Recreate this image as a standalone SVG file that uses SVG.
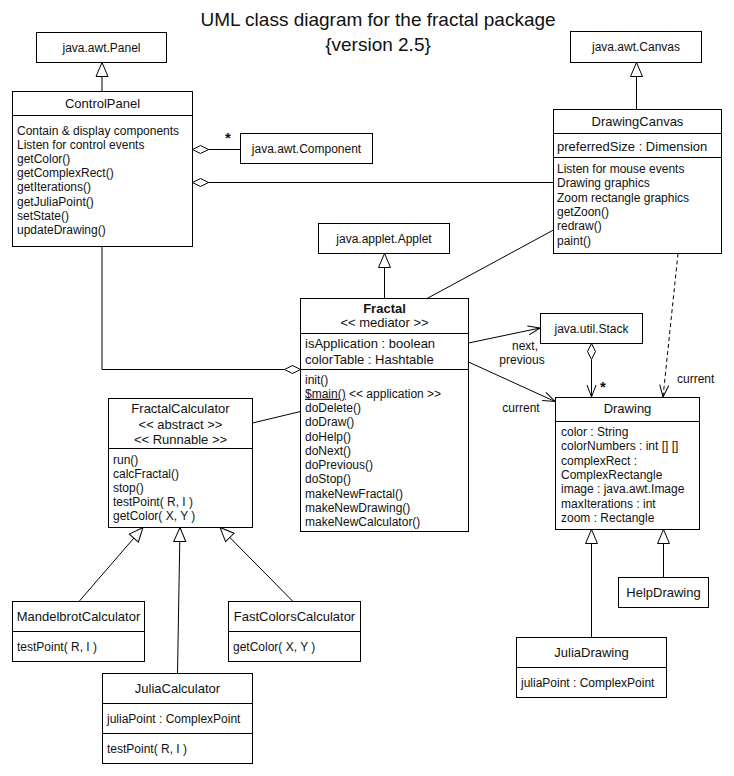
<svg xmlns="http://www.w3.org/2000/svg" width="734" height="776" viewBox="0 0 734 776">
<defs>
<style>
.box{fill:#fff;stroke:#000;stroke-width:1}
.ln{fill:none;stroke:#000;stroke-width:1}
text{font-family:"Liberation Sans",Arial,sans-serif;font-size:12px;fill:#111}
.n{font-size:13px;text-anchor:middle}
.a{font-size:13px}
.c{text-anchor:middle}
.title{font-size:19px;text-anchor:middle}
.star{font-size:15px;font-weight:bold;text-anchor:middle}
.inh{marker-end:url(#tri)}
.nav{marker-end:url(#open)}
</style>
<marker id="tri" markerUnits="userSpaceOnUse" markerWidth="18" markerHeight="16" refX="15" refY="7" orient="auto" overflow="visible">
<path d="M1,1 L15,7 L1,13 Z" fill="#fff" stroke="#000" stroke-width="1"/>
</marker>
<marker id="open" markerUnits="userSpaceOnUse" markerWidth="14" markerHeight="12" refX="12" refY="5" orient="auto" overflow="visible">
<path d="M0,0.5 L12,5 L0,9.5" fill="none" stroke="#000" stroke-width="1"/>
</marker>
</defs>
<rect width="734" height="776" fill="#fff"/>

<g id="title">
<text class="title" x="378" y="26">UML class diagram for the fractal package</text>
<text class="title" x="378" y="51">{version 2.5}</text>
</g>

<g id="connectors">
<line class="ln inh" x1="102" y1="91.5" x2="102" y2="62.5"/>
<line class="ln inh" x1="636.5" y1="109.5" x2="636.5" y2="62.5"/>
<line class="ln inh" x1="384.5" y1="298.5" x2="384.5" y2="253.5"/>
<line class="ln inh" x1="79" y1="601.5" x2="143" y2="527.5"/>
<line class="ln inh" x1="177.5" y1="673.5" x2="180" y2="527.5"/>
<line class="ln inh" x1="293" y1="601.5" x2="220" y2="527.5"/>
<line class="ln inh" x1="591.5" y1="637.5" x2="591.5" y2="529.5"/>
<line class="ln inh" x1="663.5" y1="577.5" x2="663.5" y2="529.5"/>
<line class="ln" x1="208" y1="149.5" x2="240.5" y2="149.5"/>
<polygon points="192.5,149.5 200.5,145.5 208.5,149.5 200.5,153.5" fill="#fff" stroke="#000"/>
<text class="star" x="228" y="143">*</text>
<line class="ln" x1="208" y1="182.5" x2="553.5" y2="182.5"/>
<polygon points="192.5,182.5 200.5,178.5 208.5,182.5 200.5,186.5" fill="#fff" stroke="#000"/>
<path class="ln" d="M102,246.5 V369.5 H284"/>
<polygon points="300.5,369.5 292.5,365.5 284.5,369.5 292.5,373.5" fill="#fff" stroke="#000"/>
<line class="ln" x1="427" y1="298.5" x2="553.5" y2="230"/>
<line class="ln" x1="252.5" y1="423" x2="300.5" y2="411.5"/>
<line class="ln nav" x1="468.5" y1="343" x2="540" y2="328"/>
<text class="c" x="525" y="350">next,</text>
<text class="c" x="522" y="364">previous</text>
<line class="ln nav" x1="468.5" y1="362" x2="555" y2="401.5"/>
<text class="c" x="521" y="412">current</text>
<line class="ln nav" x1="591.5" y1="359.5" x2="591.5" y2="397"/>
<polygon points="591.5,343.5 595.5,351.5 591.5,359.5 587.5,351.5" fill="#fff" stroke="#000"/>
<text class="star" x="603" y="392">*</text>
<line class="ln nav" x1="678" y1="253.5" x2="663" y2="397" stroke-dasharray="4,3"/>
<text x="677" y="383">current</text>
</g>

<g id="javaAwtPanel">
<rect class="box" x="36.5" y="32.5" width="130" height="30"/>
<text class="c" x="101.5" y="51.5">java.awt.Panel</text>
</g>

<g id="javaAwtCanvas">
<rect class="box" x="570.5" y="31.5" width="131" height="31"/>
<text class="c" x="636" y="51">java.awt.Canvas</text>
</g>

<g id="ControlPanel">
<rect class="box" x="12.5" y="91.5" width="180" height="155"/>
<line class="ln" x1="12.5" y1="115.5" x2="192.5" y2="115.5"/>
<text class="n" x="102.5" y="108">ControlPanel</text>
<text x="17" y="134.5">Contain &amp; display components</text>
<text x="17" y="148.7">Listen for control events</text>
<text x="17" y="162.9">getColor()</text>
<text x="17" y="177.1">getComplexRect()</text>
<text x="17" y="191.3">getIterations()</text>
<text x="17" y="205.5">getJuliaPoint()</text>
<text x="17" y="219.7">setState()</text>
<text x="17" y="233.9">updateDrawing()</text>
</g>

<g id="javaAwtComponent">
<rect class="box" x="240.5" y="133.5" width="132" height="30"/>
<text class="c" x="306.5" y="152.5">java.awt.Component</text>
</g>

<g id="DrawingCanvas">
<rect class="box" x="553.5" y="109.5" width="168" height="144"/>
<line class="ln" x1="553.5" y1="133.5" x2="721.5" y2="133.5"/>
<line class="ln" x1="553.5" y1="157.5" x2="721.5" y2="157.5"/>
<text class="n" x="637.5" y="126">DrawingCanvas</text>
<text class="a" x="557" y="150.5">preferredSize : Dimension</text>
<text x="557" y="173">Listen for mouse events</text>
<text x="557" y="187.3">Drawing graphics</text>
<text x="557" y="201.6">Zoom rectangle graphics</text>
<text x="557" y="215.9">getZoon()</text>
<text x="557" y="230.2">redraw()</text>
<text x="557" y="244.5">paint()</text>
</g>

<g id="javaAppletApplet">
<rect class="box" x="318.5" y="223.5" width="131" height="30"/>
<text class="c" x="384" y="243">java.applet.Applet</text>
</g>

<g id="Fractal">
<rect class="box" x="300.5" y="298.5" width="168" height="233"/>
<line class="ln" x1="300.5" y1="333.5" x2="468.5" y2="333.5"/>
<line class="ln" x1="300.5" y1="369.5" x2="468.5" y2="369.5"/>
<text class="n" x="384.5" y="312.5" font-weight="bold">Fractal</text>
<text class="n" x="384.5" y="327">&lt;&lt; mediator &gt;&gt;</text>
<text class="a" x="305" y="348">isApplication : boolean</text>
<text class="a" x="305" y="364">colorTable : Hashtable</text>
<text x="305" y="383.5">init()</text>
<text x="305" y="397.75"><tspan text-decoration="underline">$main()</tspan> &lt;&lt; application &gt;&gt;</text>
<text x="305" y="412">doDelete()</text>
<text x="305" y="426.25">doDraw()</text>
<text x="305" y="440.5">doHelp()</text>
<text x="305" y="454.75">doNext()</text>
<text x="305" y="469">doPrevious()</text>
<text x="305" y="483.25">doStop()</text>
<text x="305" y="497.5">makeNewFractal()</text>
<text x="305" y="511.75">makeNewDrawing()</text>
<text x="305" y="526">makeNewCalculator()</text>
</g>

<g id="javaUtilStack">
<rect class="box" x="540.5" y="313.5" width="102" height="30"/>
<text class="c" x="591.5" y="332.5">java.util.Stack</text>
</g>

<g id="FractalCalculator">
<rect class="box" x="108.5" y="398.5" width="144" height="129"/>
<line class="ln" x1="108.5" y1="448.5" x2="252.5" y2="448.5"/>
<text class="n" x="180.5" y="413">FractalCalculator</text>
<text class="n" x="180.5" y="428.5">&lt;&lt; abstract &gt;&gt;</text>
<text class="n" x="180.5" y="444">&lt;&lt; Runnable &gt;&gt;</text>
<text x="113" y="464">run()</text>
<text x="113" y="478">calcFractal()</text>
<text x="113" y="492">stop()</text>
<text x="113" y="506">testPoint( R, I )</text>
<text x="113" y="520">getColor( X, Y )</text>
</g>

<g id="Drawing">
<rect class="box" x="555.5" y="397.5" width="144" height="132"/>
<line class="ln" x1="555.5" y1="421.5" x2="699.5" y2="421.5"/>
<text class="n" x="627.5" y="413">Drawing</text>
<text x="561" y="436">color : String</text>
<text x="561" y="450.3">colorNumbers : int [] []</text>
<text x="561" y="464.7">complexRect :</text>
<text x="561" y="479">ComplexRectangle</text>
<text x="561" y="493.3">image : java.awt.Image</text>
<text x="561" y="507.7">maxIterations : int</text>
<text x="561" y="522">zoom : Rectangle</text>
</g>

<g id="MandelbrotCalculator">
<rect class="box" x="12.5" y="601.5" width="132" height="60"/>
<line class="ln" x1="12.5" y1="631.5" x2="144.5" y2="631.5"/>
<text class="n" x="78.5" y="621">MandelbrotCalculator</text>
<text x="17" y="651">testPoint( R, I )</text>
</g>

<g id="FastColorsCalculator">
<rect class="box" x="228.5" y="601.5" width="132" height="60"/>
<line class="ln" x1="228.5" y1="631.5" x2="360.5" y2="631.5"/>
<text class="n" x="294.5" y="621">FastColorsCalculator</text>
<text x="233" y="651">getColor( X, Y )</text>
</g>

<g id="JuliaCalculator">
<rect class="box" x="102.5" y="673.5" width="150" height="90"/>
<line class="ln" x1="102.5" y1="703.5" x2="252.5" y2="703.5"/>
<line class="ln" x1="102.5" y1="733.5" x2="252.5" y2="733.5"/>
<text class="n" x="177.5" y="693">JuliaCalculator</text>
<text x="107" y="723">juliaPoint : ComplexPoint</text>
<text x="107" y="753">testPoint( R, I )</text>
</g>

<g id="HelpDrawing">
<rect class="box" x="618.5" y="577.5" width="90" height="30"/>
<text class="n" x="663.5" y="596.5">HelpDrawing</text>
</g>

<g id="JuliaDrawing">
<rect class="box" x="516.5" y="637.5" width="150" height="60"/>
<line class="ln" x1="516.5" y1="667.5" x2="666.5" y2="667.5"/>
<text class="n" x="591.5" y="657">JuliaDrawing</text>
<text x="521" y="687">juliaPoint : ComplexPoint</text>
</g>
</svg>
